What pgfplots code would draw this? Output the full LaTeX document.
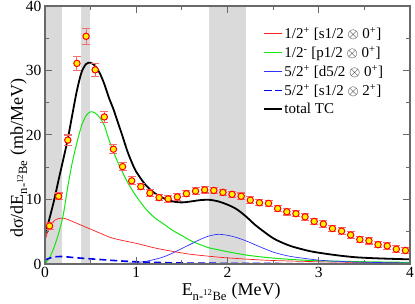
\documentclass[border=0pt]{standalone}
\usepackage{fontspec}
\setmainfont{Liberation Serif}
\usepackage{pgfplots}
\pgfplotsset{compat=1.18}
\usepackage{pgfplotstable}
\definecolor{bandgray}{RGB}{218,218,218}
\definecolor{framegray}{RGB}{105,105,105}
\definecolor{errred}{RGB}{240,110,110}
\definecolor{cred}{RGB}{255,30,30}
\definecolor{cgreen}{RGB}{20,230,20}
\definecolor{cblue}{RGB}{50,50,255}
\definecolor{cdblue}{RGB}{0,0,235}

\pgfplotstableread{
x y e
0.05 5.9 0.5
0.15 10.5 0.5
0.25 19.2 0.8
0.35 31.1 1.1
0.45 35.3 1.2
0.55 30.1 1.0
0.65 22.8 0.9
0.75 17.8 0.7
0.85 15.1 0.6
0.95 12.9 0.6
1.05 12.0 0.5
1.15 11.0 0.5
1.25 10.3 0.5
1.35 10.1 0.5
1.45 10.4 0.5
1.55 10.9 0.5
1.65 11.3 0.5
1.75 11.5 0.5
1.85 11.4 0.5
1.95 11.1 0.5
2.05 10.8 0.5
2.15 10.5 0.5
2.25 9.9 0.5
2.35 9.5 0.5
2.45 9.4 0.5
2.55 8.6 0.5
2.65 8.1 0.5
2.75 7.8 0.5
2.85 7.3 0.5
2.95 6.6 0.5
3.05 6.2 0.5
3.15 5.5 0.5
3.25 5.1 0.5
3.35 4.5 0.5
3.45 3.8 0.5
3.55 3.6 0.5
3.65 3.0 0.5
3.75 2.8 0.5
3.85 2.3 0.5
3.95 2.1 0.5
}\expdata

\pgfplotstableread{
x y
0 4.5
0.05 7.1
0.1 9.9
0.15 13.1
0.2 16.2
0.25 19.4
0.3 23.2
0.35 26.9
0.4 29.7
0.45 31.0
0.5 31.2
0.55 30.7
0.6 29.6
0.65 27.9
0.7 25.8
0.75 24.0
0.8 21.9
0.85 19.8
0.9 17.6
0.95 15.8
1.0 14.3
1.1 12.3
1.2 11.0
1.3 10.2
1.4 9.7
1.5 9.55
1.6 9.7
1.7 9.9
1.8 9.95
1.9 9.7
2.0 9.2
2.1 8.5
2.2 7.4
2.3 6.1
2.4 5.0
2.5 4.0
2.6 3.3
2.7 2.75
2.8 2.35
2.9 2.0
3.0 1.75
3.2 1.35
3.4 1.05
3.6 0.9
3.8 0.8
4.0 0.72
}\total

\pgfplotstableread{
x y
0 0
0.05 1.0
0.1 2.6
0.15 4.8
0.2 7.6
0.25 12.0
0.3 15.8
0.35 18.8
0.4 21.4
0.45 23.0
0.5 23.6
0.55 23.4
0.6 22.7
0.65 21.5
0.7 19.3
0.75 17.4
0.8 15.7
0.85 14.2
0.9 12.8
0.95 11.6
1.0 10.5
1.1 8.6
1.2 7.2
1.3 6.2
1.4 5.2
1.5 4.4
1.6 3.6
1.7 3.0
1.8 2.5
1.9 2.2
2.0 1.9
2.2 1.4
2.4 1.05
2.6 0.8
2.8 0.62
3.0 0.5
3.5 0.35
4.0 0.25
}\green

\pgfplotstableread{
x y
0 3.6
0.05 5.8
0.1 6.7
0.15 7.05
0.2 7.1
0.25 6.9
0.3 6.6
0.4 6.0
0.5 5.4
0.6 4.8
0.7 4.2
0.8 3.8
1.0 3.2
1.2 2.5
1.4 1.95
1.6 1.5
1.8 1.2
2.0 0.95
2.4 0.6
2.8 0.42
3.2 0.3
4.0 0.2
}\red

\pgfplotstableread{
x y
0 0
0.6 0.02
0.8 0.08
0.9 0.12
1.0 0.22
1.1 0.4
1.2 0.7
1.3 1.1
1.4 1.7
1.5 2.4
1.6 3.1
1.7 3.8
1.8 4.35
1.9 4.6
2.0 4.45
2.1 4.1
2.2 3.6
2.3 3.0
2.4 2.4
2.5 1.85
2.6 1.45
2.7 1.15
2.8 0.95
3.0 0.6
3.2 0.42
3.5 0.27
4.0 0.15
}\blue

\pgfplotstableread{
x y
0 0.6
0.05 0.9
0.1 1.1
0.15 1.15
0.2 1.15
0.3 1.02
0.4 0.9
0.6 0.7
0.8 0.5
1.0 0.35
1.2 0.25
1.5 0.15
2.0 0.1
3.0 0.05
4.0 0.03
}\dblue

\begin{document}
\begin{tikzpicture}
\begin{axis}[
  scale only axis, width=365pt, height=258pt,
  xmin=0, xmax=4, ymin=0, ymax=40,
  xtick={0,1,2,3,4}, ytick={0,10,20,30,40},
  minor x tick num=1, minor y tick num=1,
  tick align=inside,
  major tick length=7pt, minor tick length=4pt,
  axis line style={draw=framegray, line width=1.3pt},
  tick style={framegray, line width=1pt},
  axis on top,
  /pgf/number format/assume math mode=true,
  ticklabel style={font=\fontsize{15.5}{18}\selectfont},
  label style={font=\fontsize{18}{21}\selectfont},
  xlabel={E\textsubscript{n-\textsuperscript{12}Be} (MeV)},
  ylabel={dσ/dE\textsubscript{n-\textsuperscript{12}Be} (mb/MeV)},
  xlabel style={at={(axis description cs:0.51,-0.124)}, anchor=base},
  ylabel style={at={(axis description cs:-0.0603,0.41)}, anchor=base},
  legend style={at={(axis description cs:0.59,0.933)}, anchor=north west,
    draw=none, fill=none, font=\fontsize{15}{17}\selectfont, row sep=2.3pt},
  legend cell align=left,
]
\addplot[fill=bandgray, draw=none, forget plot] coordinates {(0,0) (0.19,0) (0.19,40) (0,40)} -- cycle;
\addplot[fill=bandgray, draw=none, forget plot] coordinates {(0.4,0) (0.495,0) (0.495,40) (0.4,40)} -- cycle;
\addplot[fill=bandgray, draw=none, forget plot] coordinates {(1.8,0) (2.2,0) (2.2,40) (1.8,40)} -- cycle;

\addplot[cred, line width=0.7pt, smooth] table[x=x,y=y] {\red};
\addlegendentry{1/2\textsuperscript{+} [s1/2 $\otimes$ 0\textsuperscript{+}]}
\addplot[cgreen, line width=1pt, smooth] table[x=x,y=y] {\green};
\addlegendentry{1/2\textsuperscript{-} [p1/2 $\otimes$ 0\textsuperscript{+}]}
\addplot[cblue, line width=0.7pt, smooth] table[x=x,y=y] {\blue};
\addlegendentry{5/2\textsuperscript{+} [d5/2 $\otimes$ 0\textsuperscript{+}]}
\addplot[cdblue, line width=1.6pt, dash pattern=on 7pt off 4pt, smooth] table[x=x,y=y] {\dblue};
\addlegendentry{5/2\textsuperscript{+} [s1/2 $\otimes$ 2\textsuperscript{+}]}
\addplot[black, line width=1.8pt, smooth] table[x=x,y=y] {\total};
\addlegendentry{total TC}

\addplot[forget plot, only marks, mark=*, mark size=3.2pt,
  mark options={fill=yellow, draw=red, line width=1pt},
  error bars/.cd, y dir=both, y explicit,
  error bar style={errred, line width=1.1pt},
  error mark options={rotate=90, mark size=4pt, errred, line width=1.1pt}]
  table[x=x, y=y, y error=e] {\expdata};
\end{axis}
\pgfresetboundingbox
\useasboundingbox (-45pt,-40pt) rectangle (370pt,264pt);
\end{tikzpicture}
\end{document}
